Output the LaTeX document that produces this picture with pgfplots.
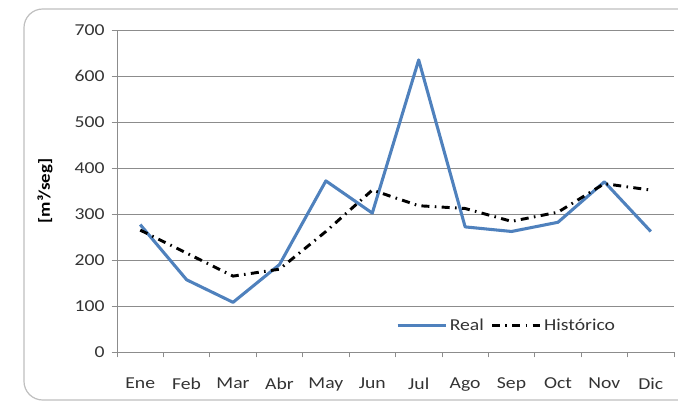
\documentclass[border=0pt]{standalone}
\usepackage{fontspec}
\setmainfont{Carlito}[FakeStretch=1.18]
\usepackage{pgfplots}
\pgfplotsset{compat=1.18}
\definecolor{realblue}{HTML}{4F81BD}
\definecolor{gridgray}{HTML}{8C8C8C}
\definecolor{txtgray}{HTML}{333333}
\begin{document}
\fontsize{12.5pt}{14pt}\selectfont
\begin{tikzpicture}
\path[use as bounding box] (0,0) rectangle (508.5pt,305.25pt);
\draw[gray!50, line width=0.9pt, rounded corners=14pt] (18pt,5.25pt) rectangle (530pt,298.5pt);
\begin{axis}[
  at={(87.75pt,41.25pt)}, anchor=south west,
  scale only axis, width=417.75pt, height=241.5pt,
  xmin=-0.5, xmax=11.5, ymin=0, ymax=700,
  ytick={0,100,...,700},
  xtick={0,...,11},
  xticklabels={Ene,Feb,Mar,Abr,May,Jun,Jul,Ago,Sep,Oct,Nov,Dic},
  minor xtick={-0.5,0.5,...,11.5},
  axis lines*=left,
  axis line style={gridgray, line width=0.6pt},
  tick align=outside,
  major x tick style={draw=none},
  minor tick length=4pt,
  major tick length=4pt,
  every tick/.style={gridgray, line width=0.6pt},
  ymajorgrids,
  grid style={gridgray, line width=0.6pt},
  ticklabel style={font=\fontsize{12.5pt}{14pt}\selectfont, text=txtgray},
  xticklabel style={yshift=-11pt},
  yticklabel style={xshift=-1pt},
  /pgf/number format/assume math mode=true,
  ylabel={\textbf{[m³/seg]}},
  ylabel style={font=\fontsize{12pt}{14pt}\selectfont, text=black, yshift=8pt},
  legend style={at={(0.70,0.081)}, anchor=center, draw=none, fill=none,
    font=\fontsize{12.5pt}{14pt}\selectfont, text=txtgray,
    /tikz/every even column/.append style={column sep=3pt}},
  legend columns=2,
  legend image code/.code={\draw[#1] (0pt,0pt) -- (36pt,0pt);},
]
\addplot[realblue, line width=2.3pt, line join=round] coordinates {
(0,277) (1,157) (2,108) (3,190) (4,372) (5,302) (6,635) (7,272) (8,262) (9,282) (10,370) (11,262)};
\addlegendentry{Real}
\addplot[black, line width=2.2pt, dash pattern=on 6pt off 4pt on 1.2pt off 4pt] coordinates {
(0,265) (1,215) (2,165) (3,180) (4,262) (5,352) (6,318) (7,312) (8,284) (9,304) (10,366) (11,352)};
\addlegendentry{Histórico}
\end{axis}
\end{tikzpicture}
\end{document}
